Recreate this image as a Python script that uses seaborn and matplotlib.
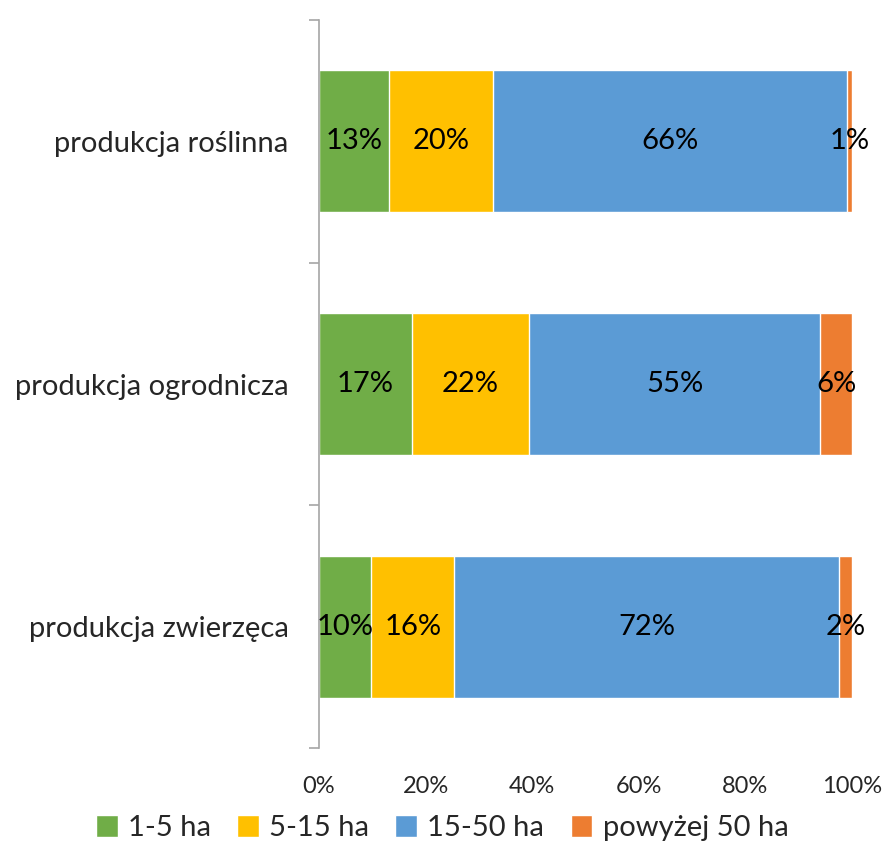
import matplotlib
matplotlib.use('Agg')
import matplotlib.pyplot as plt
import numpy as np
import pandas as pd
import seaborn as sns
from matplotlib.ticker import FixedLocator

categories = ['produkcja roślinna', 'produkcja ogrodnicza', 'produkcja zwierzęca']
series = ['1-5 ha', '5-15 ha', '15-50 ha', 'powyżej 50 ha']
colors = ['#70AD47', '#FFC000', '#5B9BD5', '#ED7D31']

# shares in %
small = [13.1, 17.4, 9.8]
mid = [19.6, 22.0, 15.6]
large = [66.4, 54.6, 72.2]
huge = [0.9, 6.0, 2.4]
labels = [['13%', '17%', '10%'],
	  ['20%', '22%', '16%'],
	  ['66%', '55%', '72%'],
	  ['1%', '6%', '2%']]

sns.set_style('white')
plt.rcParams['font.family'] = ['Lato', 'DejaVu Sans']

values = np.array([small, mid, large, huge])
cum = np.cumsum(values, axis=0)

fig = plt.figure(figsize=(8.84, 8.44), dpi=100)
ax = fig.add_axes([319 / 884, 1 - 748 / 844, 533 / 884, 728 / 844])

# stacked bars: draw cumulative totals from the largest down
for i in range(len(series) - 1, -1, -1):
	df = pd.DataFrame({'cat': categories, 'val': cum[i]})
	sns.barplot(data=df, x='val', y='cat', orient='h', color=colors[i],
		    width=0.585, saturation=1, ax=ax, label=series[i])

for i in range(len(series)):
	for j in range(len(categories)):
		centre = cum[i][j] - values[i][j] / 2
		ax.text(centre, j, labels[i][j], ha='center', va='center',
			fontsize=21, color='black')

ax.set_xlim(0, 100)
ax.set_ylim(2.5, -0.5)
ax.set_xlabel('')
ax.set_ylabel('')
ax.set_xticks([0, 20, 40, 60, 80, 100])
ax.set_xticklabels(['0%', '20%', '40%', '60%', '80%', '100%'], fontsize=17)
ax.tick_params(axis='x', length=0, pad=20)
ax.tick_params(axis='y', which='major', length=0, pad=22, labelsize=21)
ax.yaxis.set_minor_locator(FixedLocator([-0.5, 0.5, 1.5, 2.5]))
ax.tick_params(axis='y', which='minor', left=True, length=7, width=1.2, color='#A6A6A6')
for s in ['top', 'right', 'bottom']:
	ax.spines[s].set_visible(False)
ax.spines['left'].set_color('#A6A6A6')
ax.spines['left'].set_linewidth(1.2)

handles, hl = ax.get_legend_handles_labels()
order = [hl.index(s) for s in series]
fig.legend([handles[k] for k in order], series, loc='center', ncol=4,
	   bbox_to_anchor=(0.5, 1 - 828 / 844), frameon=False, fontsize=21,
	   handlelength=0.75, handleheight=0.75, handletextpad=0.35, columnspacing=0.9)
if ax.get_legend():
	ax.get_legend().remove()

fig.savefig('out.png', dpi=100)
